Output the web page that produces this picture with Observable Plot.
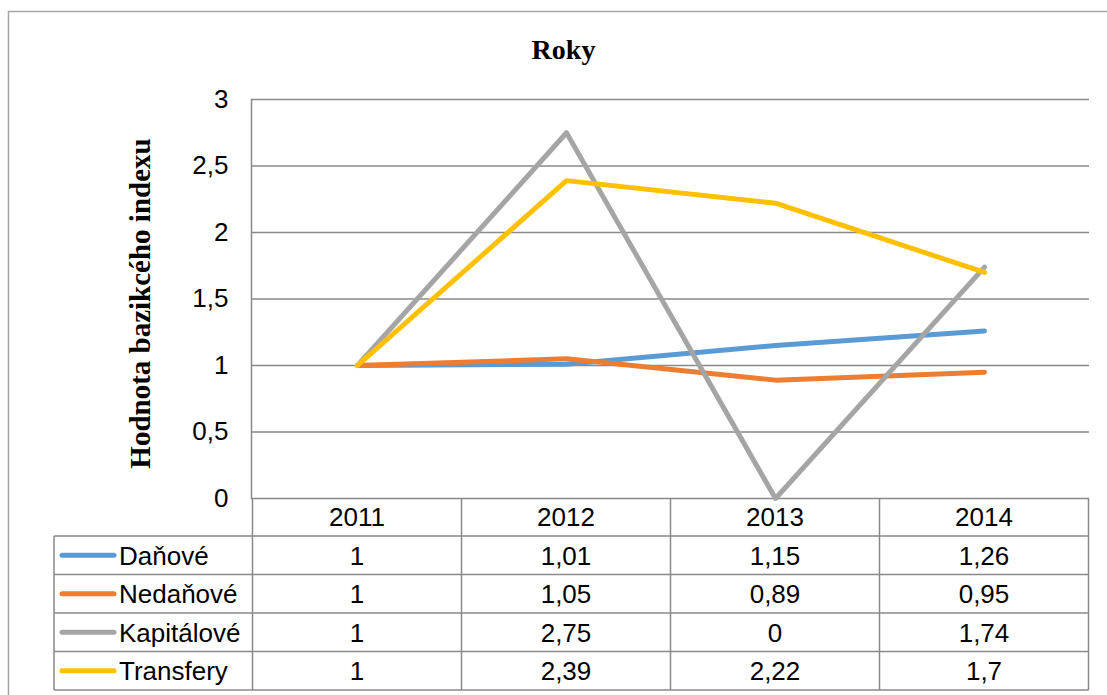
<!DOCTYPE html>
<html><head><meta charset="utf-8">
<script src="https://cdn.jsdelivr.net/npm/d3@7"></script>
<script src="https://cdn.jsdelivr.net/npm/@observablehq/plot@0.6"></script>
<style>body{margin:0;background:#fff}</style>
</head><body><div id="chart"></div>
<script>
const years = ["2011", "2012", "2013", "2014"];
const seriesNames = ["Daňové", "Nedaňové", "Kapitálové", "Transfery"];
const danove = [1, 1.01, 1.15, 1.26];
const nedanove = [1, 1.05, 0.89, 0.95];
const kapitalove = [1, 2.75, 0, 1.74];
const transfery = [1, 2.39, 2.22, 1.7];
const yTicks = [0, 0.5, 1, 1.5, 2, 2.5, 3];
const colors = ["#5B9BD5", "#ED7D31", "#A5A5A5", "#FFC000"];
const title = "Roky";
const yLabel = "Hodnota bazikcého indexu";

const values = [danove, nedanove, kapitalove, transfery];
const rows = seriesNames.flatMap((s, i) => years.map((yr, j) => ({series: s, year: yr, value: values[i][j]})));
const fmt = d => String(d).replace(".", ",");
const sans = "'Liberation Sans', Arial, sans-serif";
const serif = "'Liberation Serif', 'Times New Roman', serif";
const gridColor = "#898989";

const chart = Plot.plot({
  width: 1107, height: 695,
  marginLeft: 251, marginRight: 18, marginTop: 99, marginBottom: 197,
  style: {fontFamily: sans, fontSize: "26px", color: "#000", background: "#fff"},
  x: {type: "point", domain: years, padding: 0.5, axis: null},
  y: {domain: [0, 3], axis: null},
  color: {domain: seriesNames, range: colors},
  marks: [
    Plot.gridY(yTicks, {stroke: gridColor, strokeOpacity: 1, strokeWidth: 1.5}),
    Plot.frame({anchor: "left", stroke: gridColor, strokeWidth: 1.5}),
    Plot.axisY(yTicks, {tickSize: 0, tickPadding: 23, tickFormat: fmt, fontSize: 26, fill: "#000", label: null}),
    Plot.line(rows, {x: "year", y: "value", z: "series", stroke: "series", strokeWidth: 5, strokeLinecap: "round", strokeLinejoin: "round"}),
    Plot.text([title], {text: d => d, frameAnchor: "top-left", dx: 312, dy: -41, lineAnchor: "bottom", textAnchor: "middle", fontFamily: serif, fontWeight: "bold", fontSize: 28, fill: "#000"}),
    Plot.text([yLabel], {text: d => d, frameAnchor: "left", rotate: -90, dx: -102, dy: 4.5, lineAnchor: "bottom", textAnchor: "middle", fontFamily: serif, fontWeight: "bold", fontSize: 29, fill: "#000"})
  ]
});
document.getElementById("chart").appendChild(chart);

// Data table below the plot, positioned from the plot's scales
const svg = d3.select(chart);
const xs = chart.scale("x");
const ys = chart.scale("y");
const centers = years.map(y => xs.apply(y));
const step = centers[1] - centers[0];
const left = centers[0] - step / 2;
const right = centers[centers.length - 1] + step / 2;
const y0 = ys.apply(0);
const headerH = 38;
const rowH = 38.5;
const legendLeft = 54;
const bottom = y0 + headerH + rowH * seriesNames.length;

// outer chart border
svg.insert("rect", ":first-child")
  .attr("x", 8.5).attr("y", 11.5).attr("width", 1120).attr("height", 720)
  .attr("fill", "none").attr("stroke", "#a6a6a6").attr("stroke-width", 1.5);

const g = svg.append("g").attr("stroke", gridColor).attr("stroke-width", 1.5);
for (let r = 0; r <= seriesNames.length; r++) {
  const yy = y0 + headerH + r * rowH;
  g.append("line").attr("x1", legendLeft).attr("x2", right).attr("y1", yy).attr("y2", yy);
}
g.append("line").attr("x1", legendLeft).attr("x2", legendLeft).attr("y1", y0 + headerH).attr("y2", bottom);
for (let c = 0; c <= years.length; c++) {
  const xx = left + c * step;
  g.append("line").attr("x1", xx).attr("x2", xx).attr("y1", y0).attr("y2", bottom);
}

const t = svg.append("g").attr("font-family", sans).attr("font-size", 26).attr("fill", "#000");
const capOff = 9.3;
years.forEach((yr, j) => {
  t.append("text").attr("x", centers[j]).attr("y", y0 + headerH / 2 + capOff).attr("text-anchor", "middle").text(yr);
});
seriesNames.forEach((s, i) => {
  const cy = y0 + headerH + rowH * (i + 0.5);
  svg.append("line").attr("x1", 62).attr("x2", 114).attr("y1", cy).attr("y2", cy)
    .attr("stroke", colors[i]).attr("stroke-width", 5).attr("stroke-linecap", "round");
  t.append("text").attr("x", 119).attr("y", cy + capOff).attr("text-anchor", "start").text(s);
  years.forEach((yr, j) => {
    t.append("text").attr("x", centers[j]).attr("y", cy + capOff).attr("text-anchor", "middle").text(fmt(values[i][j]));
  });
});
</script>
</body></html>
